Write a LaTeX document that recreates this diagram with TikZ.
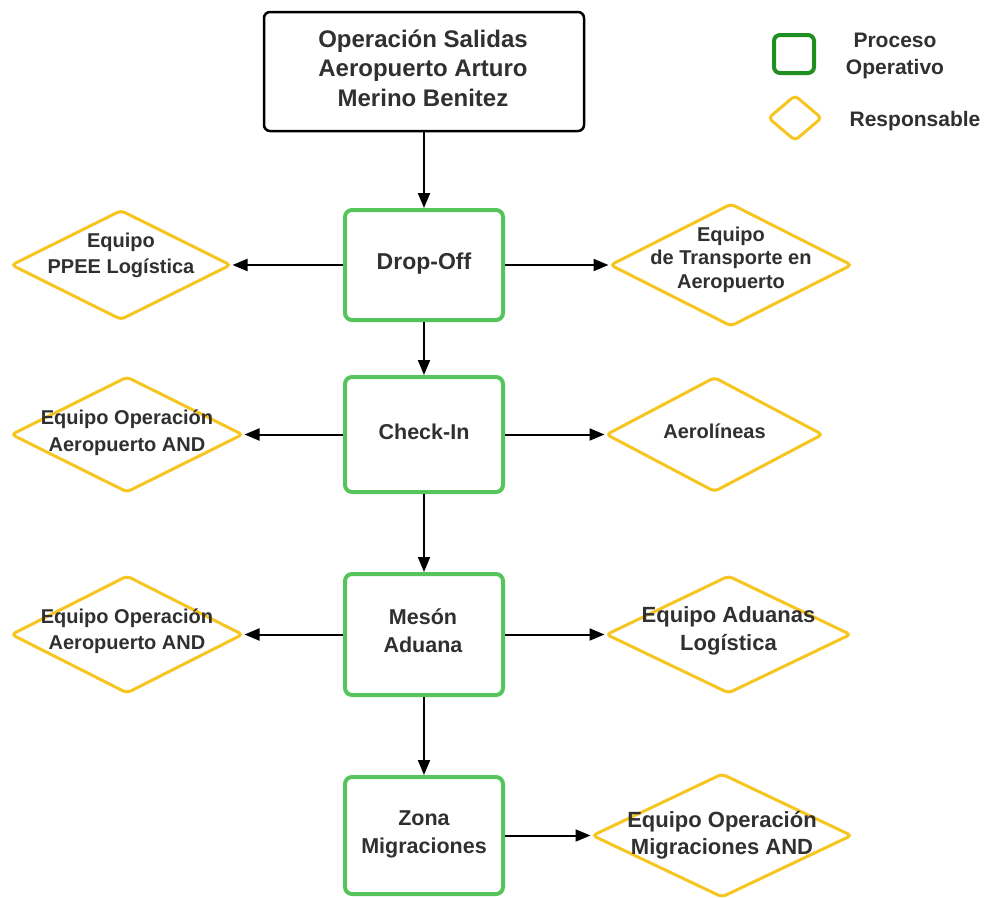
\documentclass[tikz,border=0pt]{standalone}
\usepackage{fontspec}
\setmainfont{Liberation Sans}
\usetikzlibrary{shapes.geometric,arrows.meta}
\definecolor{procgreen}{HTML}{55C45A}
\definecolor{leggreen}{HTML}{1F8F22}
\definecolor{respyellow}{HTML}{F7C520}
\definecolor{txtgray}{HTML}{303030}
\tikzset{
  topbox/.style={draw=black, line width=2.5pt, rounded corners=6pt, rectangle, minimum width=320pt, minimum height=119pt, inner sep=0pt},
  proc/.style={draw=procgreen, line width=4pt, rounded corners=7pt, rectangle, minimum width=158pt, inner sep=0pt},
  resp/.style={draw=respyellow, line width=3pt, diamond, rounded corners=4pt, inner sep=0pt},
  lbl/.style={text=txtgray, font=\bfseries, align=center, inner sep=0pt},
  arr/.style={draw=black, line width=2pt, -{Triangle[length=15pt,width=12pt]}},
}
\begin{document}
\begin{tikzpicture}[x=1pt,y=-1pt]
\useasboundingbox (0,0) rectangle (988,897);
% top
\node[topbox] (top) at (424,71.5) {};
\node[lbl, font=\bfseries\fontsize{24}{29.5}\selectfont] (toptxt) at (423,68) {Operación Salidas\\Aeropuerto Arturo\\Merino Benitez};
% legend
\node[draw=leggreen, line width=4pt, rounded corners=6pt, minimum width=40pt, minimum height=38pt, inner sep=0pt] (legsq) at (794,54) {};
\node[lbl, font=\bfseries\fontsize{21}{27}\selectfont] (legsqtxt) at (895,56) {Proceso\\Operativo};
\node[resp, minimum width=54pt, minimum height=46pt] (legdia) at (795,118) {};
\node[lbl, font=\bfseries\fontsize{21}{27}\selectfont] (legdiatxt) at (915,121) {Responsable};
% process boxes
\node[proc, minimum height=110pt] (drop) at (424,265) {};
\node[lbl, font=\bfseries\fontsize{23}{28}\selectfont] (droptxt) at (424,264) {Drop-Off};
\node[proc, minimum height=115pt] (check) at (424,434.5) {};
\node[lbl, font=\bfseries\fontsize{21.5}{28}\selectfont] (checktxt) at (424,432) {Check-In};
\node[proc, minimum height=121pt] (meson) at (424,634.5) {};
\node[lbl, font=\bfseries\fontsize{21.5}{28}\selectfont] (mesontxt) at (423,631) {Mesón\\Aduana};
\node[proc, minimum height=117pt] (zona) at (424,835.5) {};
\node[lbl, font=\bfseries\fontsize{21.5}{28}\selectfont] (zonatxt) at (424,834) {Zona\\Migraciones};
% diamonds
\node[resp, minimum width=220pt, minimum height=110pt] (d1) at (121,265) {};
\node[lbl, font=\bfseries\fontsize{20}{26}\selectfont] (d1t) at (121,255) {Equipo\\PPEE Logística};
\node[resp, minimum width=242pt, minimum height=123pt] (d2) at (731,265) {};
\node[lbl, font=\bfseries\fontsize{20}{23.5}\selectfont] (d2t) at (731,259.5) {Equipo\\de Transporte en\\Aeropuerto};
\node[resp, minimum width=232pt, minimum height=116pt] (d3) at (127,434.5) {};
\node[lbl, font=\bfseries\fontsize{20}{27}\selectfont] (d3t) at (127,432.5) {Equipo Operación\\Aeropuerto AND};
\node[resp, minimum width=217pt, minimum height=115pt] (d4) at (714.5,434.5) {};
\node[lbl, font=\bfseries\fontsize{20}{26}\selectfont] (d4t) at (714.5,431) {Aerolíneas};
\node[resp, minimum width=232pt, minimum height=118pt] (d5) at (127,634.5) {};
\node[lbl, font=\bfseries\fontsize{20}{26}\selectfont] (d5t) at (127,631.5) {Equipo Operación\\Aeropuerto AND};
\node[resp, minimum width=245pt, minimum height=118pt] (d6) at (728.5,634.5) {};
\node[lbl, font=\bfseries\fontsize{22}{28}\selectfont] (d6t) at (728.5,631) {Equipo Aduanas\\Logística};
\node[resp, minimum width=260pt, minimum height=124pt] (d7) at (722,835.5) {};
\node[lbl, font=\bfseries\fontsize{22}{27}\selectfont] (d7t) at (722,835) {Equipo Operación\\Migraciones AND};
% connectors
\draw[arr] (top.south) -- (drop.north);
\draw[arr] (drop.south) -- (check.north);
\draw[arr] (check.south) -- (meson.north);
\draw[arr] (meson.south) -- (zona.north);
\draw[arr] (drop.west) -- (d1.east);
\draw[arr] (drop.east) -- (d2.west);
\draw[arr] (check.west) -- (d3.east);
\draw[arr] (check.east) -- (d4.west);
\draw[arr] (meson.west) -- (d5.east);
\draw[arr] (meson.east) -- (d6.west);
\draw[arr] (zona.east) -- (d7.west);
\end{tikzpicture}
\end{document}
